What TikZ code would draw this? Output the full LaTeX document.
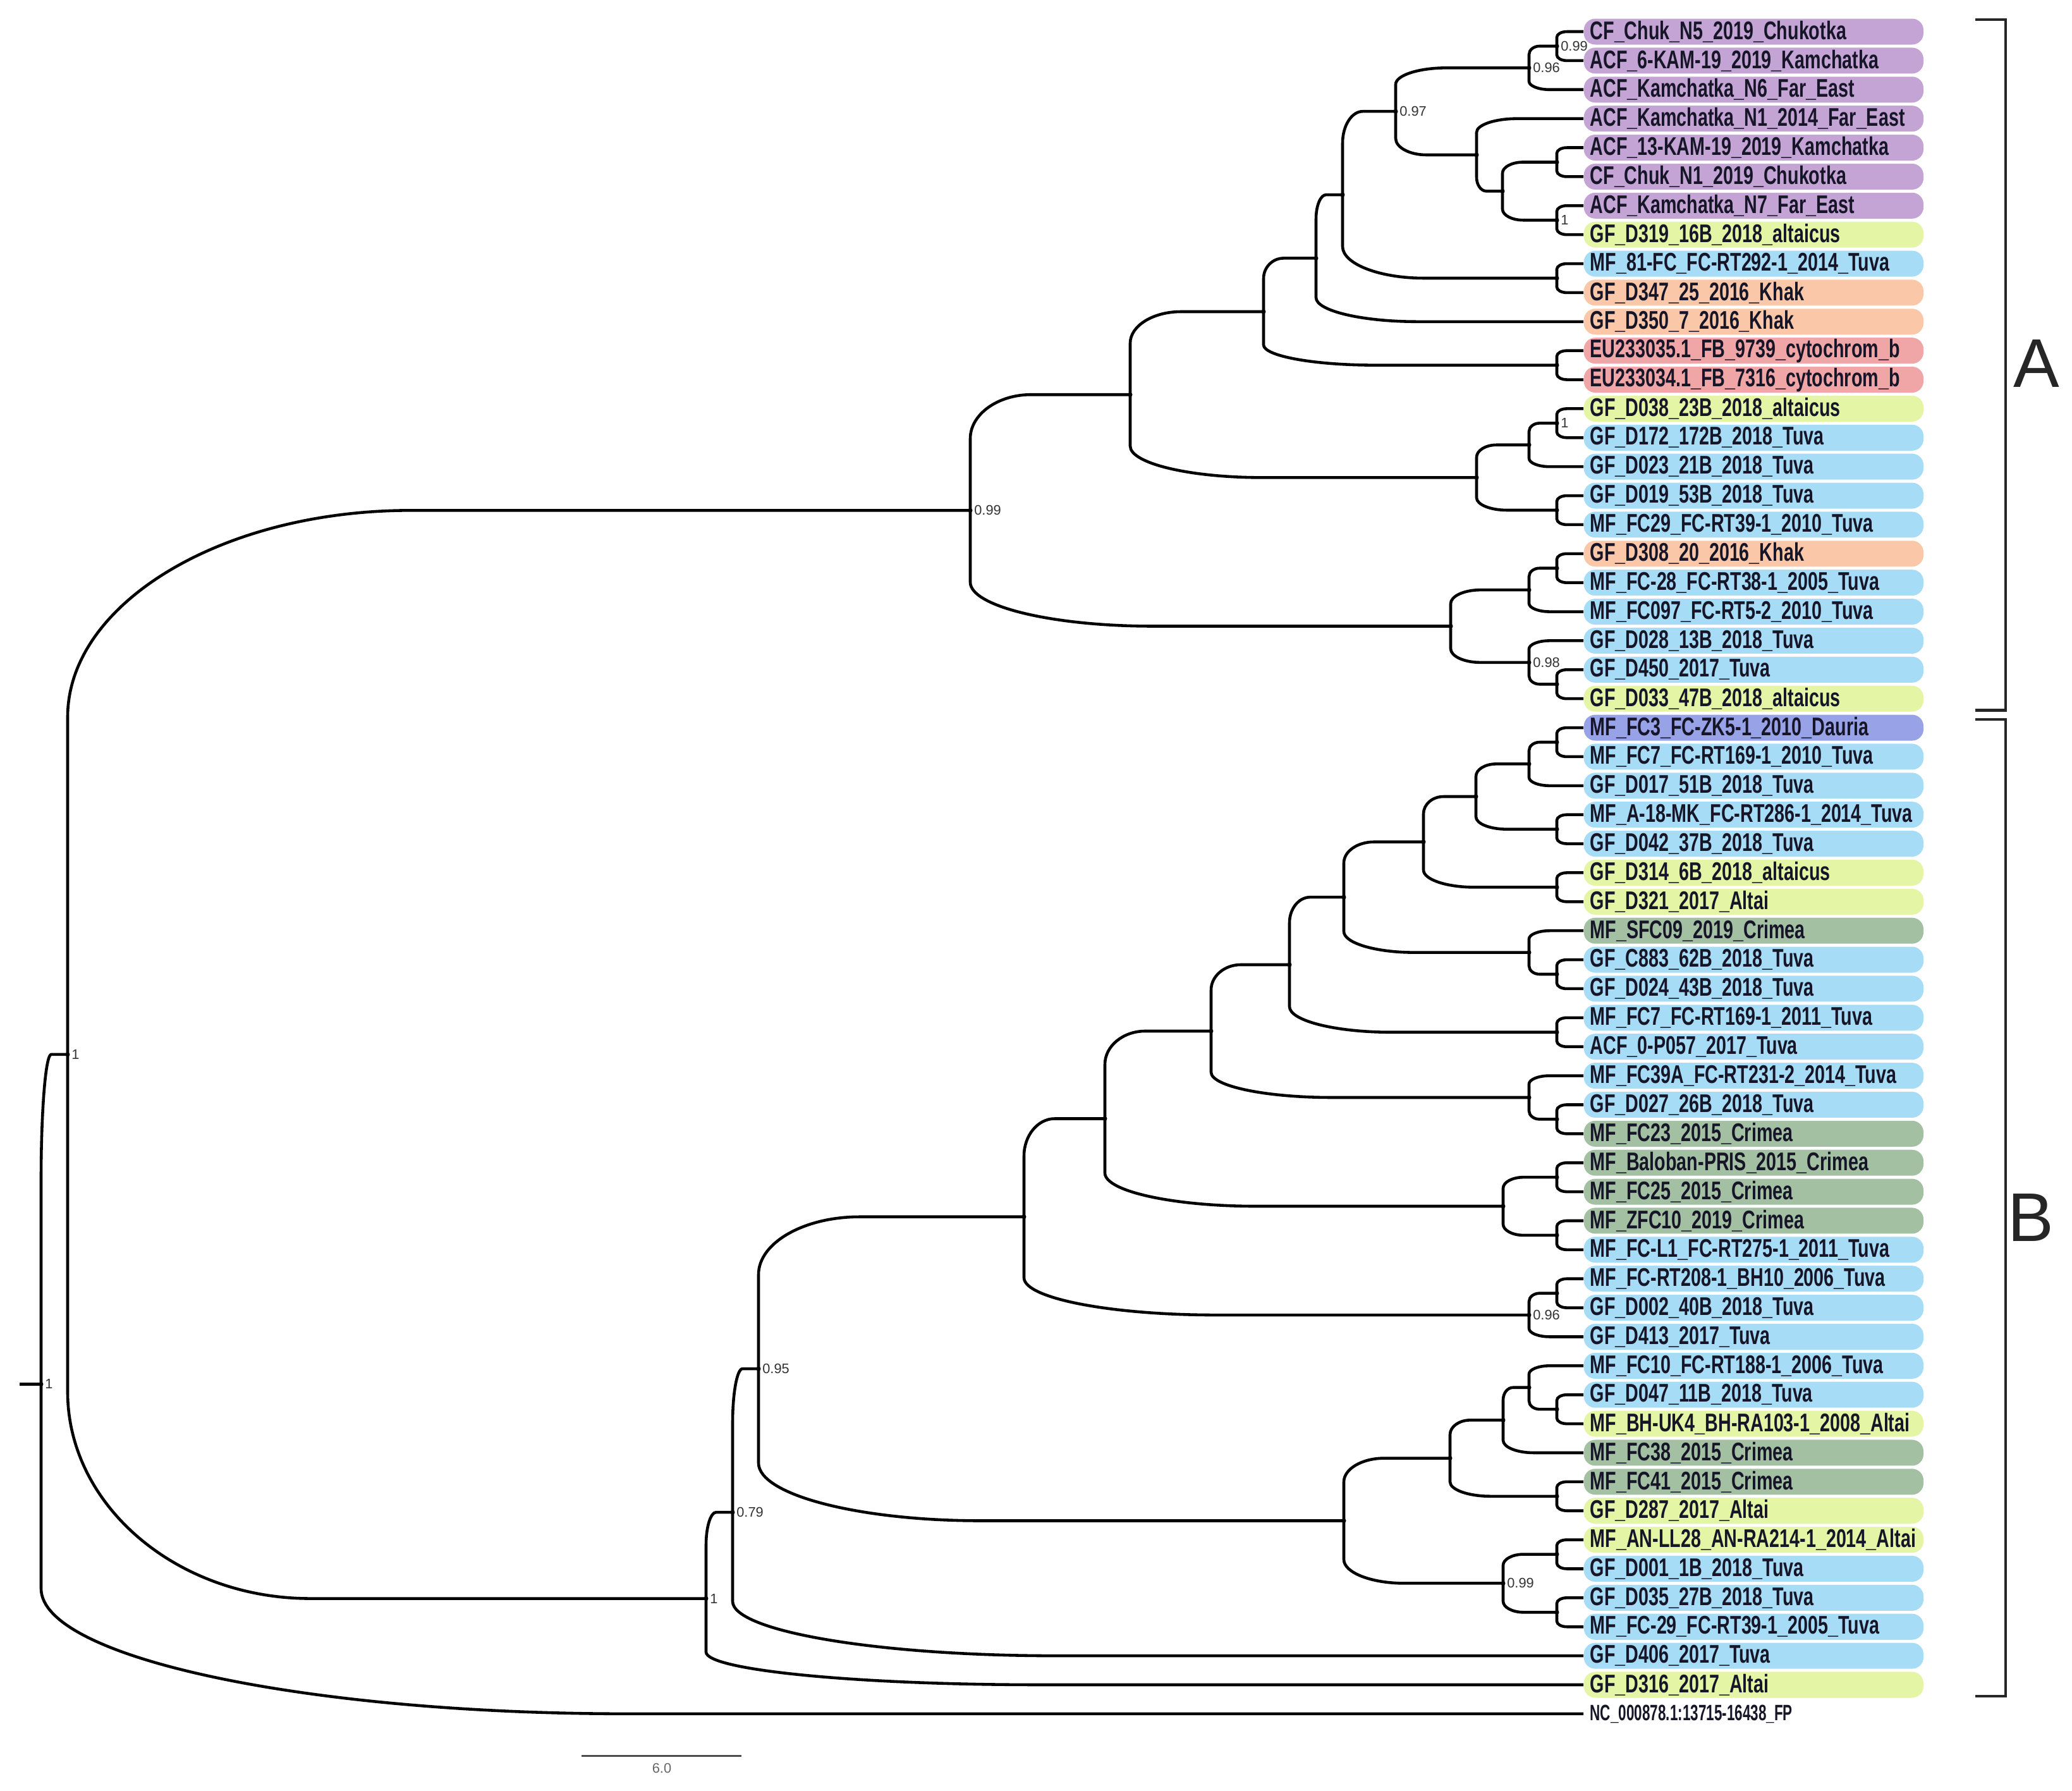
\documentclass[tikz,border=0pt]{standalone}
\usepackage{fontspec}
\setmainfont{Liberation Sans}
\newfontfamily\tipfont{Liberation Sans}[FakeStretch=0.71]
\newfontfamily\ncfont{Liberation Sans}[FakeStretch=0.64]
\usetikzlibrary{calc,positioning}
\definecolor{cP}{RGB}{196,164,212}
\definecolor{cY}{RGB}{228,245,165}
\definecolor{cB}{RGB}{166,220,246}
\definecolor{cO}{RGB}{250,200,168}
\definecolor{cR}{RGB}{240,166,166}
\definecolor{cD}{RGB}{152,162,230}
\definecolor{cG}{RGB}{164,192,162}
\definecolor{cN}{RGB}{255,255,255}
\definecolor{tipink}{RGB}{22,22,40}
\tikzset{
    dot/.style={circle, fill, inner sep=0pt, minimum size=0.7mm},
    sup/.style={font=\fontsize{6.2}{7}\selectfont, text=black!80, inner sep=0.4pt},
    tip/.style={rectangle, rounded corners=1.8mm, anchor=west, minimum height=0.41cm,
        text width=5.17cm, inner xsep=1mm, inner ysep=0pt, align=left, text=tipink,
        font=\tipfont\bfseries\fontsize{11.5}{12}\selectfont},
    branch/.style={line width=1.3pt, to path={let \p1=(\tikztostart), \p2=(\tikztotarget),
        \p3=(\x1,{\y1+0.62*(\y2-\y1)}), \p4=({\x1+0.38*(\x2-\x1)},\y2) in
        -- (\p3) .. controls (\x1,{\y3+0.55*(\y2-\y3)}) and ({\x4-0.55*(\x4-\x1)},\y2) .. (\p4)
        -- (\tikztotarget)}},
    brk/.style={line width=1.2pt, black!85},
    clade/.style={font=\fontsize{31}{31}\selectfont, text=black!85}
}
\begin{document}
\begin{tikzpicture}[x=0.01cm, y=-0.4585cm]
    \path[use as bounding box, fill=white] (0,-0.0905) rectangle (3278,61.655);

    % Tips
    \foreach \i/\cl/\txt in {
        1/cP/CF\_Chuk\_N5\_2019\_Chukotka,
        2/cP/ACF\_6-KAM-19\_2019\_Kamchatka,
        3/cP/ACF\_Kamchatka\_N6\_Far\_East,
        4/cP/ACF\_Kamchatka\_N1\_2014\_Far\_East,
        5/cP/ACF\_13-KAM-19\_2019\_Kamchatka,
        6/cP/CF\_Chuk\_N1\_2019\_Chukotka,
        7/cP/ACF\_Kamchatka\_N7\_Far\_East,
        8/cY/GF\_D319\_16B\_2018\_altaicus,
        9/cB/MF\_81-FC\_FC-RT292-1\_2014\_Tuva,
        10/cO/GF\_D347\_25\_2016\_Khak,
        11/cO/GF\_D350\_7\_2016\_Khak,
        12/cR/EU233035.1\_FB\_9739\_cytochrom\_b,
        13/cR/EU233034.1\_FB\_7316\_cytochrom\_b,
        14/cY/GF\_D038\_23B\_2018\_altaicus,
        15/cB/GF\_D172\_172B\_2018\_Tuva,
        16/cB/GF\_D023\_21B\_2018\_Tuva,
        17/cB/GF\_D019\_53B\_2018\_Tuva,
        18/cB/MF\_FC29\_FC-RT39-1\_2010\_Tuva,
        19/cO/GF\_D308\_20\_2016\_Khak,
        20/cB/MF\_FC-28\_FC-RT38-1\_2005\_Tuva,
        21/cB/MF\_FC097\_FC-RT5-2\_2010\_Tuva,
        22/cB/GF\_D028\_13B\_2018\_Tuva,
        23/cB/GF\_D450\_2017\_Tuva,
        24/cY/GF\_D033\_47B\_2018\_altaicus,
        25/cD/MF\_FC3\_FC-ZK5-1\_2010\_Dauria,
        26/cB/MF\_FC7\_FC-RT169-1\_2010\_Tuva,
        27/cB/GF\_D017\_51B\_2018\_Tuva,
        28/cB/MF\_A-18-MK\_FC-RT286-1\_2014\_Tuva,
        29/cB/GF\_D042\_37B\_2018\_Tuva,
        30/cY/GF\_D314\_6B\_2018\_altaicus,
        31/cY/GF\_D321\_2017\_Altai,
        32/cG/MF\_SFC09\_2019\_Crimea,
        33/cB/GF\_C883\_62B\_2018\_Tuva,
        34/cB/GF\_D024\_43B\_2018\_Tuva,
        35/cB/MF\_FC7\_FC-RT169-1\_2011\_Tuva,
        36/cB/ACF\_0-P057\_2017\_Tuva,
        37/cB/MF\_FC39A\_FC-RT231-2\_2014\_Tuva,
        38/cB/GF\_D027\_26B\_2018\_Tuva,
        39/cG/MF\_FC23\_2015\_Crimea,
        40/cG/MF\_Baloban-PRIS\_2015\_Crimea,
        41/cG/MF\_FC25\_2015\_Crimea,
        42/cG/MF\_ZFC10\_2019\_Crimea,
        43/cB/MF\_FC-L1\_FC-RT275-1\_2011\_Tuva,
        44/cB/MF\_FC-RT208-1\_BH10\_2006\_Tuva,
        45/cB/GF\_D002\_40B\_2018\_Tuva,
        46/cB/GF\_D413\_2017\_Tuva,
        47/cB/MF\_FC10\_FC-RT188-1\_2006\_Tuva,
        48/cB/GF\_D047\_11B\_2018\_Tuva,
        49/cY/MF\_BH-UK4\_BH-RA103-1\_2008\_Altai,
        50/cG/MF\_FC38\_2015\_Crimea,
        51/cG/MF\_FC41\_2015\_Crimea,
        52/cY/GF\_D287\_2017\_Altai,
        53/cY/MF\_AN-LL28\_AN-RA214-1\_2014\_Altai,
        54/cB/GF\_D001\_1B\_2018\_Tuva,
        55/cB/GF\_D035\_27B\_2018\_Tuva,
        56/cB/MF\_FC-29\_FC-RT39-1\_2005\_Tuva,
        57/cB/GF\_D406\_2017\_Tuva,
        58/cY/GF\_D316\_2017\_Altai}
        \node[tip, fill=\cl] (L\i) at (2505,\i) {\txt};
    \node[tip, fill=cN, font=\ncfont\bfseries\fontsize{10}{11}\selectfont] (L59) at (2505,59) {NC\_000878.1:13715-16438\_FP};

    % Clade A nodes
    \node[dot, label={[sup]right:0.99}] (c12) at (2463,1.5) {};
    \node[dot, label={[sup]right:0.96}] (n096a) at (2419,2.25) {};
    \node[dot] (c56) at (2463,5.5) {};
    \node[dot, label={[sup]right:1}] (c78) at (2463,7.5) {};
    \node[dot] (n58) at (2377,6.5) {};
    \node[dot] (n48) at (2336,5.25) {};
    \node[dot, label={[sup]right:0.97}] (n097) at (2208,3.75) {};
    \node[dot] (c910) at (2463,9.5) {};
    \node[dot] (n110) at (2124,6.625) {};
    \node[dot] (n111) at (2082,8.8125) {};
    \node[dot] (c1213) at (2463,12.5) {};
    \node[dot] (n113) at (1999,10.656) {};
    \node[dot, label={[sup]right:1}] (c1415) at (2463,14.5) {};
    \node[dot] (n1416) at (2419,15.25) {};
    \node[dot] (c1718) at (2463,17.5) {};
    \node[dot] (n1418) at (2336,16.375) {};
    \node[dot] (n118) at (1788,13.516) {};
    \node[dot] (c1920) at (2463,19.5) {};
    \node[dot] (n1921) at (2419,20.25) {};
    \node[dot] (c2324) at (2463,23.5) {};
    \node[dot, label={[sup]right:0.98}] (n098) at (2419,22.75) {};
    \node[dot] (n1924) at (2295,21.5) {};
    \node[dot, label={[sup]right:0.99}] (n099a) at (1535,17.508) {};

    % Clade B nodes
    \node[dot] (c2526) at (2463,25.5) {};
    \node[dot] (n2527) at (2419,26.25) {};
    \node[dot] (c2829) at (2463,28.5) {};
    \node[dot] (n2529) at (2335,27.375) {};
    \node[dot] (c3031) at (2463,30.5) {};
    \node[dot] (n2531) at (2252,28.938) {};
    \node[dot] (c3334) at (2463,33.5) {};
    \node[dot] (n3234) at (2419,32.75) {};
    \node[dot] (n2534) at (2126,30.844) {};
    \node[dot] (c3536) at (2463,35.5) {};
    \node[dot] (n2536) at (2040,33.172) {};
    \node[dot] (c3839) at (2463,38.5) {};
    \node[dot] (n3739) at (2419,37.75) {};
    \node[dot] (n2539) at (1916,35.461) {};
    \node[dot] (c4041) at (2463,40.5) {};
    \node[dot] (c4243) at (2463,42.5) {};
    \node[dot] (n4043) at (2378,41.5) {};
    \node[dot] (n2543) at (1748,38.48) {};
    \node[dot] (c4445) at (2463,44.5) {};
    \node[dot, label={[sup]right:0.96}] (n096b) at (2419,45.25) {};
    \node[dot] (n2546) at (1620,41.865) {};
    \node[dot] (c4849) at (2463,48.5) {};
    \node[dot] (n4749) at (2419,47.75) {};
    \node[dot] (n4750) at (2378,48.875) {};
    \node[dot] (c5152) at (2463,51.5) {};
    \node[dot] (n4752) at (2294,50.188) {};
    \node[dot] (c5354) at (2463,53.5) {};
    \node[dot] (c5556) at (2463,55.5) {};
    \node[dot, label={[sup]right:0.99}] (n099b) at (2378,54.5) {};
    \node[dot] (n4756) at (2126,52.344) {};
    \node[dot, label={[sup]right:0.95}] (n095) at (1200,47.104) {};
    \node[dot, label={[sup]right:0.79}] (n079) at (1159,52.052) {};
    \node[dot, label={[sup]right:1}] (n1B) at (1117,55.026) {};

    % Deep nodes
    \node[dot, label={[sup]right:1}] (nTop) at (107,36.267) {};
    \node[dot, label={[sup]right:1}] (root) at (65,47.634) {};
    \coordinate (stub) at (31,47.634);
    \draw[line width=1.3pt] (stub) -- (root.center);

    % Branches between nodes
    \foreach \a/\b in {root/nTop, nTop/n099a, nTop/n1B, n099a/n118, n099a/n1924,
        n118/n113, n118/n1418, n113/n111, n113/c1213, n111/n110, n110/n097, n110/c910,
        n097/n096a, n097/n48, n096a/c12, n48/n58, n58/c56, n58/c78, n1418/n1416,
        n1418/c1718, n1416/c1415, n1924/n1921, n1924/n098, n1921/c1920, n098/c2324,
        n1B/n079, n079/n095, n095/n2546, n095/n4756, n2546/n2543, n2546/n096b,
        n2543/n2539, n2543/n4043, n2539/n2536, n2539/n3739, n2536/n2534, n2536/c3536,
        n2534/n2531, n2534/n3234, n2531/n2529, n2531/c3031, n2529/n2527, n2529/c2829,
        n2527/c2526, n3234/c3334, n3739/c3839, n4043/c4041, n4043/c4243, n096b/c4445,
        n4756/n4752, n4756/n099b, n4752/n4750, n4752/c5152, n4750/n4749, n4749/c4849,
        n099b/c5354, n099b/c5556}
        \path (\a.center) edge[branch] (\b.center);

    % Branches to tips
    \foreach \a/\b in {root/59, n111/11, n096a/3, c12/1, c12/2, n48/4, c56/5, c56/6,
        c78/7, c78/8, c910/9, c910/10, c1213/12, c1213/13, n1416/16, c1415/14, c1415/15,
        c1718/17, c1718/18, n1921/21, c1920/19, c1920/20, n098/22, c2324/23, c2324/24,
        n1B/58, n079/57, n2527/27, c2526/25, c2526/26, c2829/28, c2829/29, c3031/30,
        c3031/31, n3234/32, c3334/33, c3334/34, c3536/35, c3536/36, n3739/37, c3839/38,
        c3839/39, c4041/40, c4041/41, c4243/42, c4243/43, n096b/46, c4445/44, c4445/45,
        n4749/47, c4849/48, c4849/49, n4750/50, c5152/51, c5152/52, c5354/53, c5354/54,
        c5556/55, c5556/56}
        \path (\a.center) edge[branch] (L\b.west);

    % Clade brackets
    \draw[brk] (3125,0.586) -- (3173,0.586) -- (3173,24.40) -- (3125,24.40);
    \draw[brk] (3125,24.71) -- (3173,24.71) -- (3173,58.40) -- (3125,58.40);
    \node[clade] (labA) at (3222,12.45) {A};
    \node[clade] (labB) at (3213,41.9) {B};

    % Scale bar
    \coordinate (s0) at (920,60.45);
    \coordinate (s1) at (1173,60.45);
    \draw[line width=0.8pt, black!70] (s0) -- (s1);
    \node[sup, text=black!60] (slab) at (1047,60.87) {6.0};
\end{tikzpicture}
\end{document}
